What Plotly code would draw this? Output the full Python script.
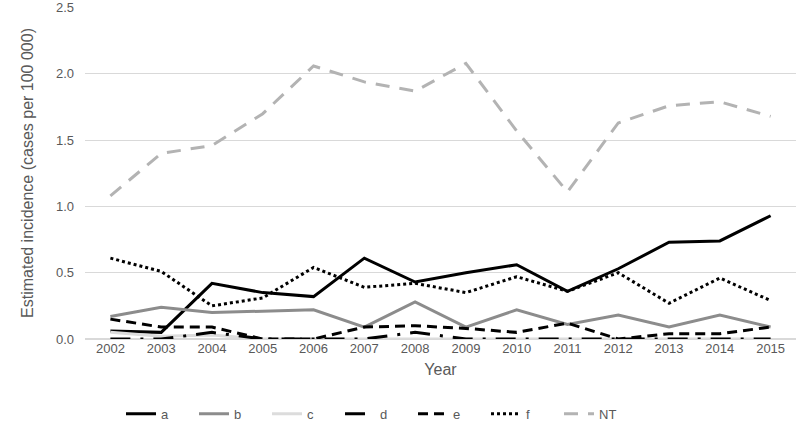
import plotly.graph_objects as go

years = [str(y) for y in range(2002, 2016)]
a = [0.06, 0.05, 0.42, 0.35, 0.32, 0.61, 0.43, 0.50, 0.56, 0.36, 0.53, 0.73, 0.74, 0.93]
b = [0.17, 0.24, 0.20, 0.21, 0.22, 0.09, 0.28, 0.09, 0.22, 0.11, 0.18, 0.09, 0.18, 0.09]
c = [0.05, 0.02, 0.03, 0.00, 0.00, 0.00, 0.00, 0.00, 0.00, 0.00, 0.00, 0.00, 0.00, 0.00]
d = [0.00, 0.00, 0.05, 0.00, 0.00, 0.00, 0.05, 0.00, 0.00, 0.00, 0.00, 0.00, 0.00, 0.00]
e = [0.15, 0.09, 0.09, 0.00, 0.00, 0.09, 0.10, 0.08, 0.05, 0.12, 0.00, 0.04, 0.04, 0.09]
f = [0.61, 0.51, 0.25, 0.31, 0.54, 0.39, 0.42, 0.35, 0.47, 0.36, 0.50, 0.27, 0.46, 0.29]
nt = [1.08, 1.40, 1.46, 1.70, 2.06, 1.94, 1.87, 2.08, 1.57, 1.11, 1.63, 1.76, 1.79, 1.68]

series = [
    ("a", a, "#000000", "solid"),
    ("b", b, "#8c8c8c", "solid"),
    ("c", c, "#dcdcdc", "solid"),
    ("d", d, "#000000", "20px,10px,3px,10px"),
    ("e", e, "#000000", "10px,6px"),
    ("f", f, "#000000", "dot"),
    ("NT", nt, "#b3b3b3", "14px,10px"),
]

fig = go.Figure()
for name, vals, col, dash in series:
    fig.add_trace(go.Scatter(x=years, y=vals, name=name, mode="lines",
                             line=dict(color=col, width=3, dash=dash)))

fig.update_layout(
    width=800, height=423,
    margin=dict(l=85, r=4, t=7, b=84, autoexpand=False),
    plot_bgcolor="white", paper_bgcolor="white",
    font=dict(family="Liberation Sans, Arial, sans-serif", size=13, color="#595959"),
    showlegend=True,
    legend=dict(orientation="h", x=0.41, xanchor="center", y=-0.18, yanchor="top",
                font=dict(size=13, color="#595959"), entrywidth=28, entrywidthmode="pixels",
                traceorder="normal"),
    xaxis=dict(type="category", title=dict(text="Year", standoff=8),
               showgrid=False, showline=False, ticks="", tickfont=dict(size=13),
               range=[-0.5, 13.5], automargin=False),
    yaxis=dict(range=[0, 2.505], tickvals=[0, 0.5, 1.0, 1.5, 2.0, 2.5], tickformat=".1f",
               showgrid=True, gridcolor="#d9d9d9", gridwidth=1, zeroline=True,
               zerolinecolor="#d9d9d9", ticklabelstandoff=10, automargin=False,
               title=dict(text="Estimated incidence (cases per 100 000)", standoff=18),
               tickfont=dict(size=13)),
)

fig.write_html("out.html", config={"displayModeBar": False},
               post_script="document.body.style.margin='0';")
